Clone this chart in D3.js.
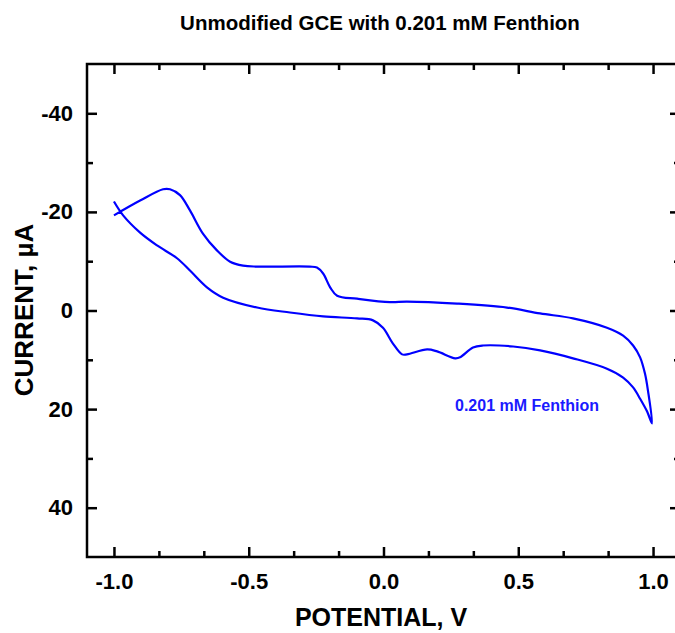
<!DOCTYPE html>
<html>
<head>
<meta charset="utf-8">
<script src="https://cdn.jsdelivr.net/npm/d3@7"></script>
<style>
  html, body { margin: 0; padding: 0; background: #fff; }
  svg { display: block; font-family: Arial, "Liberation Sans", sans-serif; }
  .axis text { font-weight: bold; fill: #000; }
</style>
</head>
<body>
<svg id="chart" width="675" height="633"></svg>
<script>
// forward scan (-1.0 -> 1.0 V)
const forwardV = [-1.0, -0.966, -0.903, -0.84, -0.766, -0.718, -0.655, -0.595, -0.469, -0.347, -0.224, -0.098,
  -0.039, -0.002, 0.035, 0.069, 0.087, 0.162, 0.199, 0.266, 0.284, 0.332, 0.369, 0.481, 0.581, 0.703, 0.829,
  0.889, 0.926, 0.952, 0.978, 0.996];
const forwardI = [-22.1, -19.3, -15.8, -13.2, -10.6, -8.1, -4.7, -2.6, -0.6, 0.4, 1.2, 1.6,
  2.0, 3.5, 6.7, 8.9, 8.9, 7.9, 8.3, 9.7, 9.5, 7.5, 7.1, 7.3, 8.1, 9.7, 11.8,
  13.6, 15.6, 17.9, 20.5, 22.9];
// reverse scan (1.0 -> -1.0 V)
const reverseV = [0.981, 0.97, 0.952, 0.926, 0.889, 0.829, 0.703, 0.581, 0.458, 0.273, 0.087, 0.024, -0.098, -0.172,
  -0.198, -0.224, -0.247, -0.273, -0.469, -0.521, -0.569, -0.618, -0.67, -0.718, -0.755, -0.792, -0.818,
  -0.903, -1.0];
const reverseI = [16.2, 12.8, 9.5, 7.1, 5.1, 3.5, 1.6, 0.6, -0.6, -1.4, -1.8, -1.7, -2.4, -3.0,
  -4.7, -7.5, -8.7, -8.9, -8.9, -9.1, -9.9, -12.2, -15.6, -20.3, -23.4, -24.6, -24.6,
  -22.3, -19.3];

const xMajor = [-1.0, -0.5, 0.0, 0.5, 1.0];
const yMajor = [-40, -20, 0, 20, 40];

const svg = d3.select("#chart");
const plot = { left: 87, right: 680, top: 64, bottom: 557 };

const x = d3.scaleLinear().domain([-1.1, 1.1]).range([plot.left, plot.right]);
const y = d3.scaleLinear().domain([-50, 50]).range([plot.top, plot.bottom]);

// minor ticks: thirds between x majors, halves between y majors
const xMinor = d3.range(-1.0, 1.1, 0.5 / 3).filter(v => Math.abs(v * 2 - Math.round(v * 2)) > 0.01);
const yMinor = [-30, -10, 10, 30];

function styleAxis(g) {
  g.select(".domain").remove();
  g.selectAll(".tick line").attr("stroke", "#000").attr("stroke-width", 2.5);
}

// bottom
svg.append("g").attr("class", "axis").attr("transform", `translate(0,${plot.bottom})`)
  .call(d3.axisBottom(x).tickValues(xMajor).tickSize(-10).tickPadding(16).tickFormat(d => d.toFixed(1)))
  .call(styleAxis)
  .selectAll("text").attr("font-size", 22);
svg.append("g").attr("transform", `translate(0,${plot.bottom})`)
  .call(d3.axisBottom(x).tickValues(xMinor).tickSize(-6).tickFormat(""))
  .call(styleAxis);
// top
svg.append("g").attr("transform", `translate(0,${plot.top})`)
  .call(d3.axisTop(x).tickValues(xMajor).tickSize(-10).tickFormat(""))
  .call(styleAxis);
svg.append("g").attr("transform", `translate(0,${plot.top})`)
  .call(d3.axisTop(x).tickValues(xMinor).tickSize(-6).tickFormat(""))
  .call(styleAxis);
// left
svg.append("g").attr("class", "axis").attr("transform", `translate(${plot.left},0)`)
  .call(d3.axisLeft(y).tickValues(yMajor).tickSize(-10).tickPadding(14).tickFormat(d => String(d)))
  .call(styleAxis)
  .selectAll("text").attr("font-size", 22);
svg.append("g").attr("transform", `translate(${plot.left},0)`)
  .call(d3.axisLeft(y).tickValues(yMinor).tickSize(-6).tickFormat(""))
  .call(styleAxis);
// right
svg.append("g").attr("transform", `translate(${plot.right},0)`)
  .call(d3.axisRight(y).tickValues(yMajor).tickSize(-10).tickFormat(""))
  .call(styleAxis);
svg.append("g").attr("transform", `translate(${plot.right},0)`)
  .call(d3.axisRight(y).tickValues(yMinor).tickSize(-6).tickFormat(""))
  .call(styleAxis);

// frame
svg.append("rect")
  .attr("x", plot.left).attr("y", plot.top)
  .attr("width", plot.right - plot.left).attr("height", plot.bottom - plot.top)
  .attr("fill", "none").attr("stroke", "#000").attr("stroke-width", 2.5);

// the voltammogram
const pts = forwardV.map((v, i) => [v, forwardI[i]])
  .concat(reverseV.map((v, i) => [v, reverseI[i]]));

const line = d3.line()
  .x(d => x(d[0]))
  .y(d => y(d[1]))
  .curve(d3.curveCatmullRom.alpha(0.5));

svg.append("path")
  .datum(pts)
  .attr("d", line)
  .attr("fill", "none")
  .attr("stroke", "#0000ff")
  .attr("stroke-width", 2.2)
  .attr("stroke-linejoin", "round");

// labels
svg.append("text")
  .attr("x", 380).attr("y", 30)
  .attr("text-anchor", "middle")
  .attr("font-size", 20.5).attr("font-weight", "bold")
  .text("Unmodified GCE with 0.201 mM Fenthion");

svg.append("text")
  .attr("x", 381).attr("y", 626)
  .attr("text-anchor", "middle")
  .attr("font-size", 25).attr("font-weight", "bold")
  .text("POTENTIAL, V");

svg.append("text")
  .attr("transform", "translate(33,310) rotate(-90)")
  .attr("text-anchor", "middle")
  .attr("font-size", 26).attr("font-weight", "bold")
  .text("CURRENT, µA");

svg.append("text")
  .attr("x", 455).attr("y", 411)
  .attr("font-size", 16).attr("font-weight", "bold")
  .attr("fill", "#1a1aff")
  .text("0.201 mM Fenthion");
</script>
</body>
</html>
